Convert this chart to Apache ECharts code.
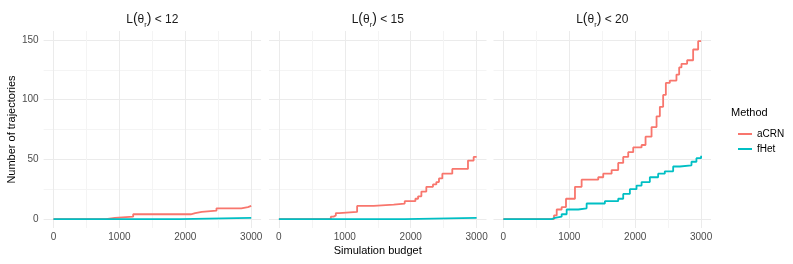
<!DOCTYPE html>
<html><head><meta charset="utf-8">
<script src="https://cdn.jsdelivr.net/npm/echarts@6/dist/echarts.min.js"></script>
<style>html,body{margin:0;padding:0;background:#fff}#c{width:793px;height:264px}</style>
</head><body><div id="c"></div>
<script>
// ---- data ----
const panelTitles = ['12', '15', '20'];
const methods = ['aCRN', 'fHet'];
const xTicks = [0, 1000, 2000, 3000];
const xMinor = [500, 1500, 2500];
const yTicks = [0, 50, 100, 150];
const yMinor = [25, 75, 125];

const budget_aCRN_12 = [0, 795, 932, 1209, 2083, 2150, 2250, 2473, 2850, 2950, 3000];
const count_aCRN_12  = [0, 1, 2, 4, 5, 6, 7, 9, 10, 11, 11];
const budget_fHet_12 = [0, 1917, 3000];
const count_fHet_12  = [0, 1, 1];

const budget_aCRN_15 = [0, 788, 830, 864, 914, 1187, 1439, 1742, 1909, 2071, 2112, 2162, 2237, 2338, 2389, 2429, 2480, 2631, 2869, 2955, 3000];
const count_aCRN_15  = [0, 2, 3, 5, 6, 11, 12, 13, 15, 17, 19, 23, 27, 29, 31, 34, 38, 42, 49, 52, 52];
const budget_fHet_15 = [0, 1909, 3000];
const count_fHet_15  = [0, 1, 1];

const budget_aCRN_20 = [0, 768, 809, 884, 950, 1086, 1187, 1439, 1515, 1642, 1742, 1818, 1894, 1970, 2097, 2157, 2248, 2324, 2374, 2424, 2465, 2525, 2626, 2667, 2702, 2788, 2879, 2955, 3000];
const count_aCRN_20  = [0, 3, 8, 10, 17, 27, 33, 35, 38, 41, 47, 52, 56, 60, 62, 69, 77, 86, 94, 104, 114, 116, 121, 127, 130, 133, 142, 149, 149];
const budget_fHet_20 = [0, 733, 783, 884, 960, 1136, 1263, 1540, 1742, 1818, 1919, 2020, 2097, 2222, 2348, 2449, 2576, 2677, 2854, 2929, 3000];
const count_fHet_20  = [0, 1, 2, 4, 8, 9, 13, 15, 17, 21, 25, 28, 31, 35, 38, 40, 44, 45, 48, 51, 53];

const panelData = [
  [[budget_aCRN_12, count_aCRN_12], [budget_fHet_12, count_fHet_12]],
  [[budget_aCRN_15, count_aCRN_15], [budget_fHet_15, count_fHet_15]],
  [[budget_aCRN_20, count_aCRN_20], [budget_fHet_20, count_fHet_20]]
];

// ---- layout / style ----
const FONT = '"Liberation Sans", Arial, sans-serif';
const colors = ['#F8766D', '#00BFC4'];
const gridLefts = [43.6, 269, 493.5];
const gridW = 217.5, gridTop = 31, gridH = 197;
const xMin = -150, xMax = 3150, yMin = -7.5, yMax = 157.5;
const majorCol = '#EBEBEB', minorCol = '#F4F4F4';
const plain = v => String(v);

const grids = [], xAxes = [], yAxes = [], series = [], graphics = [];
gridLefts.forEach((l, i) => {
  grids.push({left: l, top: gridTop, width: gridW, height: gridH, containLabel: false});
  xAxes.push({type: 'value', gridIndex: i, min: xMin, max: xMax,
    axisLine: {show: false},
    axisTick: {show: false, customValues: xTicks},
    axisLabel: {customValues: xTicks, formatter: plain, color: '#4D4D4D', fontSize: 10, fontFamily: FONT, margin: 4},
    splitLine: {show: true, lineStyle: {color: majorCol, width: 1}}});
  xAxes.push({type: 'value', gridIndex: i, min: xMin, max: xMax,
    axisLine: {show: false},
    axisTick: {show: false, customValues: xMinor},
    axisLabel: {show: false, customValues: xMinor},
    splitLine: {show: true, lineStyle: {color: minorCol, width: 1}}});
  yAxes.push({type: 'value', gridIndex: i, min: yMin, max: yMax,
    axisLine: {show: false},
    axisTick: {show: false, customValues: yTicks},
    axisLabel: {show: i === 0, customValues: yTicks, formatter: plain, color: '#4D4D4D', fontSize: 10, fontFamily: FONT, margin: 5},
    splitLine: {show: true, lineStyle: {color: majorCol, width: 1}}});
  yAxes.push({type: 'value', gridIndex: i, min: yMin, max: yMax,
    axisLine: {show: false},
    axisTick: {show: false, customValues: yMinor},
    axisLabel: {show: false, customValues: yMinor},
    splitLine: {show: true, lineStyle: {color: minorCol, width: 1}}});

  panelData[i].forEach((pair, m) => {
    const [xs, ys] = pair;
    series.push({
      name: methods[m], type: 'line', step: 'end',
      xAxisIndex: i * 2, yAxisIndex: i * 2,
      data: xs.map((x, k) => [x, ys[k]]),
      showSymbol: false, symbol: 'none',
      lineStyle: {color: colors[m], width: 1.8},
      itemStyle: {color: colors[m]},
      z: 2 + m, animation: false, silent: true
    });
  });

  const base = {fontFamily: FONT, fill: '#1A1A1A', color: '#1A1A1A', lineHeight: 18, verticalAlign: 'middle'};
  graphics.push({type: 'text', x: l + gridW / 2, y: 19.5,
    style: {text: '{a|L}{p|(}{a|θ}{s|r}{p|)}{a| < ' + panelTitles[i] + '}', align: 'center', verticalAlign: 'middle',
      rich: {a: Object.assign({}, base, {fontSize: 12}),
             p: Object.assign({}, base, {fontSize: 14}),
             s: Object.assign({}, base, {fontSize: 7.5, verticalAlign: 'bottom'})}}});
});

graphics.push({type: 'text', x: gridLefts[1] + gridW / 2, y: 251,
  style: {text: 'Simulation budget', align: 'center', verticalAlign: 'middle', font: '11px ' + FONT, fill: '#000'}});
graphics.push({type: 'text', x: 12, y: 129.5, rotation: Math.PI / 2,
  style: {text: 'Number of trajectories', align: 'center', verticalAlign: 'middle', font: '11px ' + FONT, fill: '#000'}});
graphics.push({type: 'text', x: 731, y: 112.5,
  style: {text: 'Method', align: 'left', verticalAlign: 'middle', font: '11px ' + FONT, fill: '#000'}});

const chart = echarts.init(document.getElementById('c'), null, {renderer: 'canvas'});
chart.setOption({
  animation: false,
  grid: grids, xAxis: xAxes, yAxis: yAxes, series: series,
  legend: {data: methods, orient: 'vertical', left: 733, top: 123, itemWidth: 14, itemHeight: 2, itemGap: 3,
    icon: 'rect', selectedMode: false,
    textStyle: {fontSize: 10, fontFamily: FONT, color: '#000', lineHeight: 12}},
  graphic: graphics
});
</script></body></html>
